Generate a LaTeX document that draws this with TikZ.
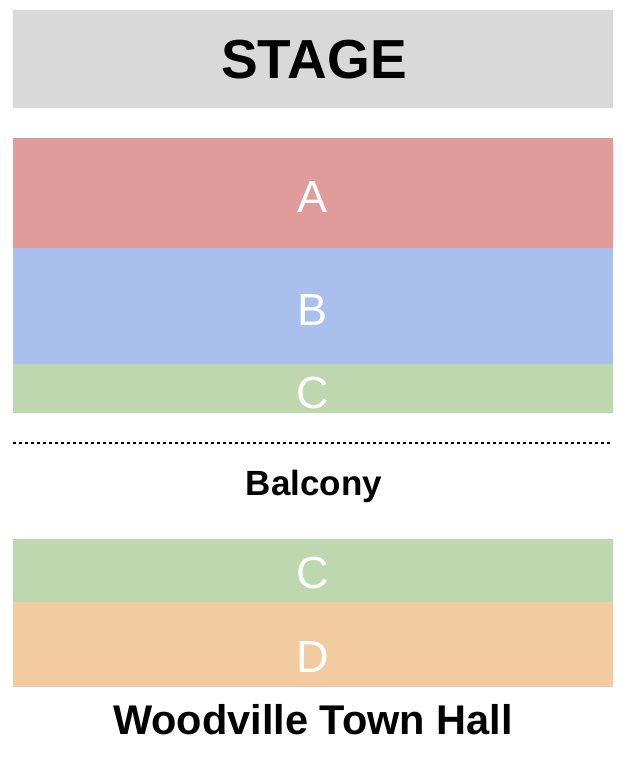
\documentclass[tikz,border=0pt]{standalone}
\usepackage{fontspec}
\setmainfont{Liberation Sans}
\definecolor{stagegray}{HTML}{D9D9D9}
\definecolor{secA}{HTML}{E09C9B}
\definecolor{secB}{HTML}{A9BFEE}
\definecolor{secC}{HTML}{BFD7AE}
\definecolor{secD}{HTML}{F2CBA0}
\tikzset{
    band/.style = {
        rectangle,
        minimum width=600pt,
        inner sep=0pt,
        outer sep=0pt,
        },
    seat/.style = {
        text = white,
        font = \fontsize{45}{48}\selectfont,
        inner sep=0pt,
        },
    title/.style = {
        font = \fontsize{41.5}{44}\selectfont\bfseries,
        inner sep=0pt,
        },
    divider/.style = {
        line width=2pt,
        dash pattern=on 3pt off 3pt,
        },
}
\begin{document}
\begin{tikzpicture}[x=1pt,y=1pt]
            \useasboundingbox (0,0) rectangle (626,-764);
            \node[band, fill=stagegray, minimum height=98pt] (stage) at (313,-59) {};
            \node[band, fill=secA, minimum height=110pt] (A) at (313,-193) {};
            \node[band, fill=secB, minimum height=116pt] (B) at (313,-306) {};
            \node[band, fill=secC, minimum height=49pt] (C1) at (313,-388.5) {};
            \node[band, fill=secC, minimum height=63pt] (C2) at (313,-570.5) {};
            \node[band, fill=secD, minimum height=85pt] (D) at (313,-644.5) {};

            \node[title, font=\fontsize{55}{58}\selectfont\bfseries] (stagelbl) at (314,-60) {STAGE};
            \node[seat] (labA) at (313,-197) {A};
            \node[seat] (labB) at (313,-310) {B};
            \node[seat] (labC1) at (313,-393) {C};
            \node[seat] (labC2) at (313,-573) {C};
            \node[seat] (labD) at (313,-657) {D};

            \coordinate (dl) at (13,-443);
            \coordinate (dr) at (610,-443);
            \draw[divider] (dl) -- (dr);

            \node[title, font=\fontsize{35}{38}\selectfont\bfseries, anchor=base] (balcony) at (314,-495) {Balcony};
            \node[title, anchor=base] (hall) at (313,-734) {Woodville Town Hall};
        \end{tikzpicture}
\end{document}
